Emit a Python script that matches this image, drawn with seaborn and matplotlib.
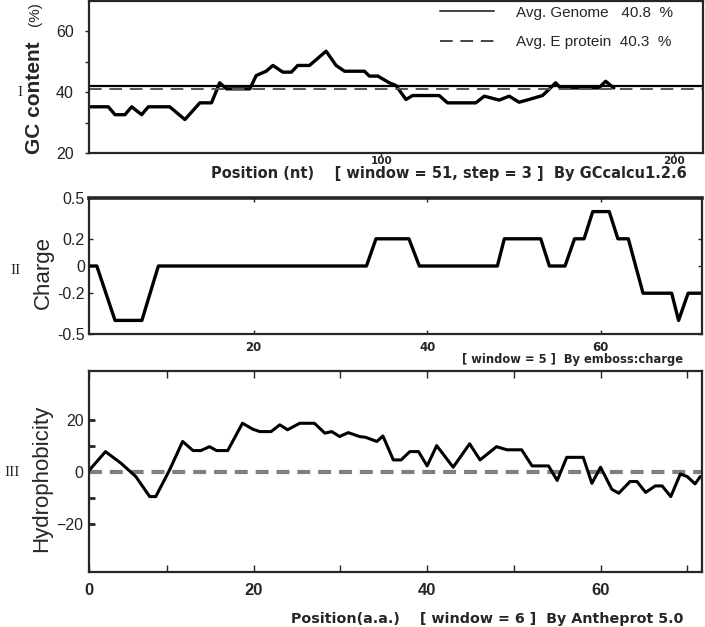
import numpy as np
import pandas as pd
import matplotlib
matplotlib.use("Agg")
import matplotlib.pyplot as plt
from matplotlib import font_manager
from matplotlib.lines import Line2D
from matplotlib.ticker import FixedLocator, FixedFormatter
import seaborn as sns

# ---------------- data ----------------
gc_pos = [0, 6.6, 8.9, 12.3, 14.6, 18.0, 20.3, 27.6, 32.8, 37.9, 41.9, 44.7, 47.0, 55.0,
          57.2, 60.6, 62.9, 66.3, 69.2, 71.4, 75.4, 81.1, 84.5, 87.4, 94.2, 95.9, 98.8,
          102.7, 105.0, 108.4, 110.7, 119.8, 122.6, 132.3, 135.2, 140.3, 143.7, 147.1,
          150.5, 155.1, 157.3, 159.6, 161.3, 174.4, 176.7, 179.5]
gc_val = [35.2, 35.2, 32.6, 32.6, 35.2, 32.6, 35.2, 35.2, 31.0, 36.5, 36.5, 43.1, 41.1, 41.1,
          45.5, 46.9, 48.8, 46.6, 46.6, 48.8, 48.8, 53.5, 48.8, 46.9, 46.9, 45.3, 45.3,
          43.1, 42.2, 37.6, 38.9, 38.9, 36.5, 36.5, 38.7, 37.4, 38.7, 36.7,
          37.6, 38.9, 40.9, 43.1, 41.4, 41.4, 43.6, 41.4]
genome_line = 41.9
eprotein_line = 40.9
legend_labels = ["Avg. Genome   40.8  %", "Avg. E protein  40.3  %"]

charge_pos = [1, 1.9, 4.0, 7.1, 9.0, 33.0, 34.1, 37.9, 39.1, 48.1, 48.9, 53.1, 54.1, 55.9,
              57.0, 58.1, 59.1, 61.0, 62.0, 63.2, 64.9, 68.2, 69.0, 70.1, 71.8]
charge_val = [0, 0, -0.4, -0.4, 0, 0, 0.2, 0.2, 0, 0, 0.2, 0.2, 0, 0,
              0.2, 0.2, 0.4, 0.4, 0.2, 0.2, -0.2, -0.2, -0.4, -0.2, -0.2]

hyd_pos = [1.0, 2.9, 4.7, 6.4, 8.0, 8.7, 10.3, 11.8, 13.0, 13.9, 14.9, 15.7, 17.0, 18.7,
           19.9, 20.7, 22.0, 23.0, 23.9, 25.3, 27.0, 28.2, 29.0, 29.9, 30.9, 32.2, 32.9,
           34.2, 34.9, 36.1, 37.0, 38.0, 39.0, 40.0, 41.1, 43.0, 44.9, 46.1, 48.0, 49.2,
           50.9, 52.1, 54.0, 55.0, 56.1, 58.0, 59.0, 60.0, 61.3, 62.1, 63.4, 64.2, 65.2,
           66.3, 67.1, 68.1, 69.2, 70.0, 70.9, 71.5]
hyd_val = [0.5, 7.8, 3.3, -1.8, -9.5, -9.5, 0.8, 11.7, 8.2, 8.2, 9.7, 8.2, 8.2, 18.7,
           16.4, 15.5, 15.5, 18.1, 16.2, 18.7, 18.7, 14.9, 15.5, 13.6, 15.1, 13.6, 13.3,
           11.7, 13.8, 4.6, 4.6, 7.8, 7.8, 2.3, 10.1, 1.8, 10.8, 4.6, 9.7, 8.5,
           8.5, 2.3, 2.3, -3.3, 5.6, 5.6, -4.4, 1.8, -6.7, -8.2, -3.7, -3.7, -7.9,
           -5.4, -5.4, -9.5, -0.8, -1.8, -4.6, -1.8]

xticks_nt = [100, 200]
xticks_aa = [20, 40, 60]

# ---------------- style ----------------
sns.set_style("ticks")
avail = {f.name for f in font_manager.fontManager.ttflist}
NARROW = "Liberation Sans Narrow" if "Liberation Sans Narrow" in avail else "Liberation Sans"
SANS = "Liberation Sans" if "Liberation Sans" in avail else "DejaVu Sans"
SERIF = "Liberation Serif" if "Liberation Serif" in avail else "DejaVu Serif"
plt.rcParams["font.family"] = [SANS, "DejaVu Sans"]
TICKSZ = 12 if NARROW != SANS else 11.5

W, H = 705, 627
fig = plt.figure(figsize=(W / 100, H / 100), dpi=100)


def rect(l, t, r, b):
    return [l / W, 1 - b / H, (r - l) / W, (b - t) / H]


def px(x, y):
    return x / W, 1 - y / H


SPW = 1.6

# ---------- Panel I ----------
ax1 = fig.add_axes(rect(89, 1, 703, 153))
sns.lineplot(x=gc_pos, y=gc_val, ax=ax1, color="black", lw=2.4, sort=False)
ax1.axhline(genome_line, color="black", lw=1.6)
ax1.axhline(eprotein_line, color="#555555", lw=1.4, dashes=(6.5, 4))
ax1.set_xlim(0, 210)
ax1.set_ylim(20, 70)
ax1.set_yticks([20, 40, 60])
ax1.set_yticks([30, 50], minor=True)
ax1.set_xticks(xticks_nt)
ax1.tick_params(axis="y", which="both", direction="out", length=3, width=1, pad=8,
                labelsize=TICKSZ, labelcolor="#222222")
ax1.tick_params(axis="x", direction="out", length=2, width=1, pad=0.5, labelsize=7.5)
for lab in ax1.get_yticklabels():
    lab.set_family(NARROW)
for lab in ax1.get_xticklabels():
    lab.set_family("DejaVu Sans")
    lab.set_fontweight("bold")
handles = [Line2D([], [], color="#444444", lw=1.4),
           Line2D([], [], color="#444444", lw=1.4, dashes=(6.5, 4))]
leg = ax1.legend(handles, legend_labels, loc="upper right", bbox_to_anchor=(0.956, 0.99),
                 frameon=False, borderaxespad=0, borderpad=0.2, handlelength=3.5,
                 handletextpad=1.45, labelspacing=1.0,
                 prop={"family": NARROW, "size": 11})
ax1.set_xlabel("")
ax1.set_ylabel("")

# ---------- Panel II ----------
ax2 = fig.add_axes(rect(89, 198, 702, 334))
sns.lineplot(x=charge_pos, y=charge_val, ax=ax2, color="black", lw=2.4, sort=False)
ax2.set_xlim(1, 71.7)
ax2.set_ylim(-0.5, 0.5)
ax2.set_yticks([-0.5, -0.2, 0, 0.2, 0.5])
ax2.set_yticklabels(["-0.5", "-0.2", "0", "0.2", "0.5"])
ax2.set_xticks(xticks_aa)
ax2.tick_params(axis="y", direction="in", length=3, width=1, pad=3, right=True,
                labelsize=TICKSZ, labelcolor="#222222")
ax2.tick_params(axis="x", direction="in", length=3, width=1, pad=5, top=True,
                labelsize=8.5)
for lab in ax2.get_yticklabels():
    lab.set_family(NARROW)
for lab in ax2.get_xticklabels():
    lab.set_family("DejaVu Sans")
    lab.set_fontweight("bold")
ax2.set_xlabel("")
ax2.set_ylabel("")

# ---------- Panel III ----------
ax3 = fig.add_axes(rect(89, 371, 702, 572))
ax3.axhline(0, color="#7f7f7f", lw=3, dashes=(3.1, 1.9))
sns.lineplot(x=hyd_pos, y=hyd_val, ax=ax3, color="black", lw=2.2, sort=False)
ax3.set_xlim(1, 71.7)
ax3.set_ylim(-38.5, 38.8)
ax3.set_yticks([-20, 0, 20])
ax3.set_yticks([-10, 10], minor=True)
ax3.xaxis.set_major_locator(FixedLocator([1] + xticks_aa))
ax3.xaxis.set_major_formatter(FixedFormatter(["0"] + [str(v) for v in xticks_aa]))
ax3.xaxis.set_minor_locator(FixedLocator([10, 30, 50, 70]))
ax3.tick_params(axis="y", which="both", direction="in", length=4, width=2, pad=4,
                labelsize=TICKSZ, labelcolor="#222222")
ax3.tick_params(axis="x", which="both", direction="in", length=5, width=1, pad=8,
                top=True, labelsize=12)
for lab in ax3.get_yticklabels():
    lab.set_family(NARROW)
for lab in ax3.get_xticklabels():
    lab.set_family(SANS)
    lab.set_fontweight("bold")
ax3.set_xlabel("")
ax3.set_ylabel("")

for ax in (ax1, ax2, ax3):
    for s in ax.spines.values():
        s.set_visible(True)
        s.set_linewidth(SPW)
ax2.spines["top"].set_linewidth(2.6)

# ---------- labels ----------
fig.text(*px(35, 98), "GC content", rotation=90, ha="center", va="center",
         fontsize=15, fontweight="bold", family=SANS)
fig.text(*px(35, 14), "(%)", rotation=90, ha="center", va="center",
         fontsize=11, family=SANS)
fig.text(*px(43, 273), "Charge", rotation=90, ha="center", va="center",
         fontsize=16, family=SANS)
fig.text(*px(42, 478), "Hydrophobicity", rotation=90, ha="center", va="center",
         fontsize=16, family=SANS)

fig.text(*px(20, 93), "I", ha="center", va="center", fontsize=11, family=SERIF)
fig.text(*px(16, 270), "II", ha="center", va="center", fontsize=11, family=SERIF)
fig.text(*px(12, 472), "III", ha="center", va="center", fontsize=11, family=SERIF)

fig.text(*px(687, 173), "Position (nt)    [ window = 51, step = 3 ]  By GCcalcu1.2.6",
         ha="right", va="center", fontsize=10.5, fontweight="bold", family="DejaVu Sans")
fig.text(*px(683, 360), "[ window = 5 ]  By emboss:charge",
         ha="right", va="center", fontsize=8.3, fontweight="bold", family="DejaVu Sans")
fig.text(*px(683, 619), "Position(a.a.)    [ window = 6 ]  By Antheprot 5.0",
         ha="right", va="center", fontsize=10.3, fontweight="bold", family="DejaVu Sans")

fig.savefig("out.png", dpi=100)
